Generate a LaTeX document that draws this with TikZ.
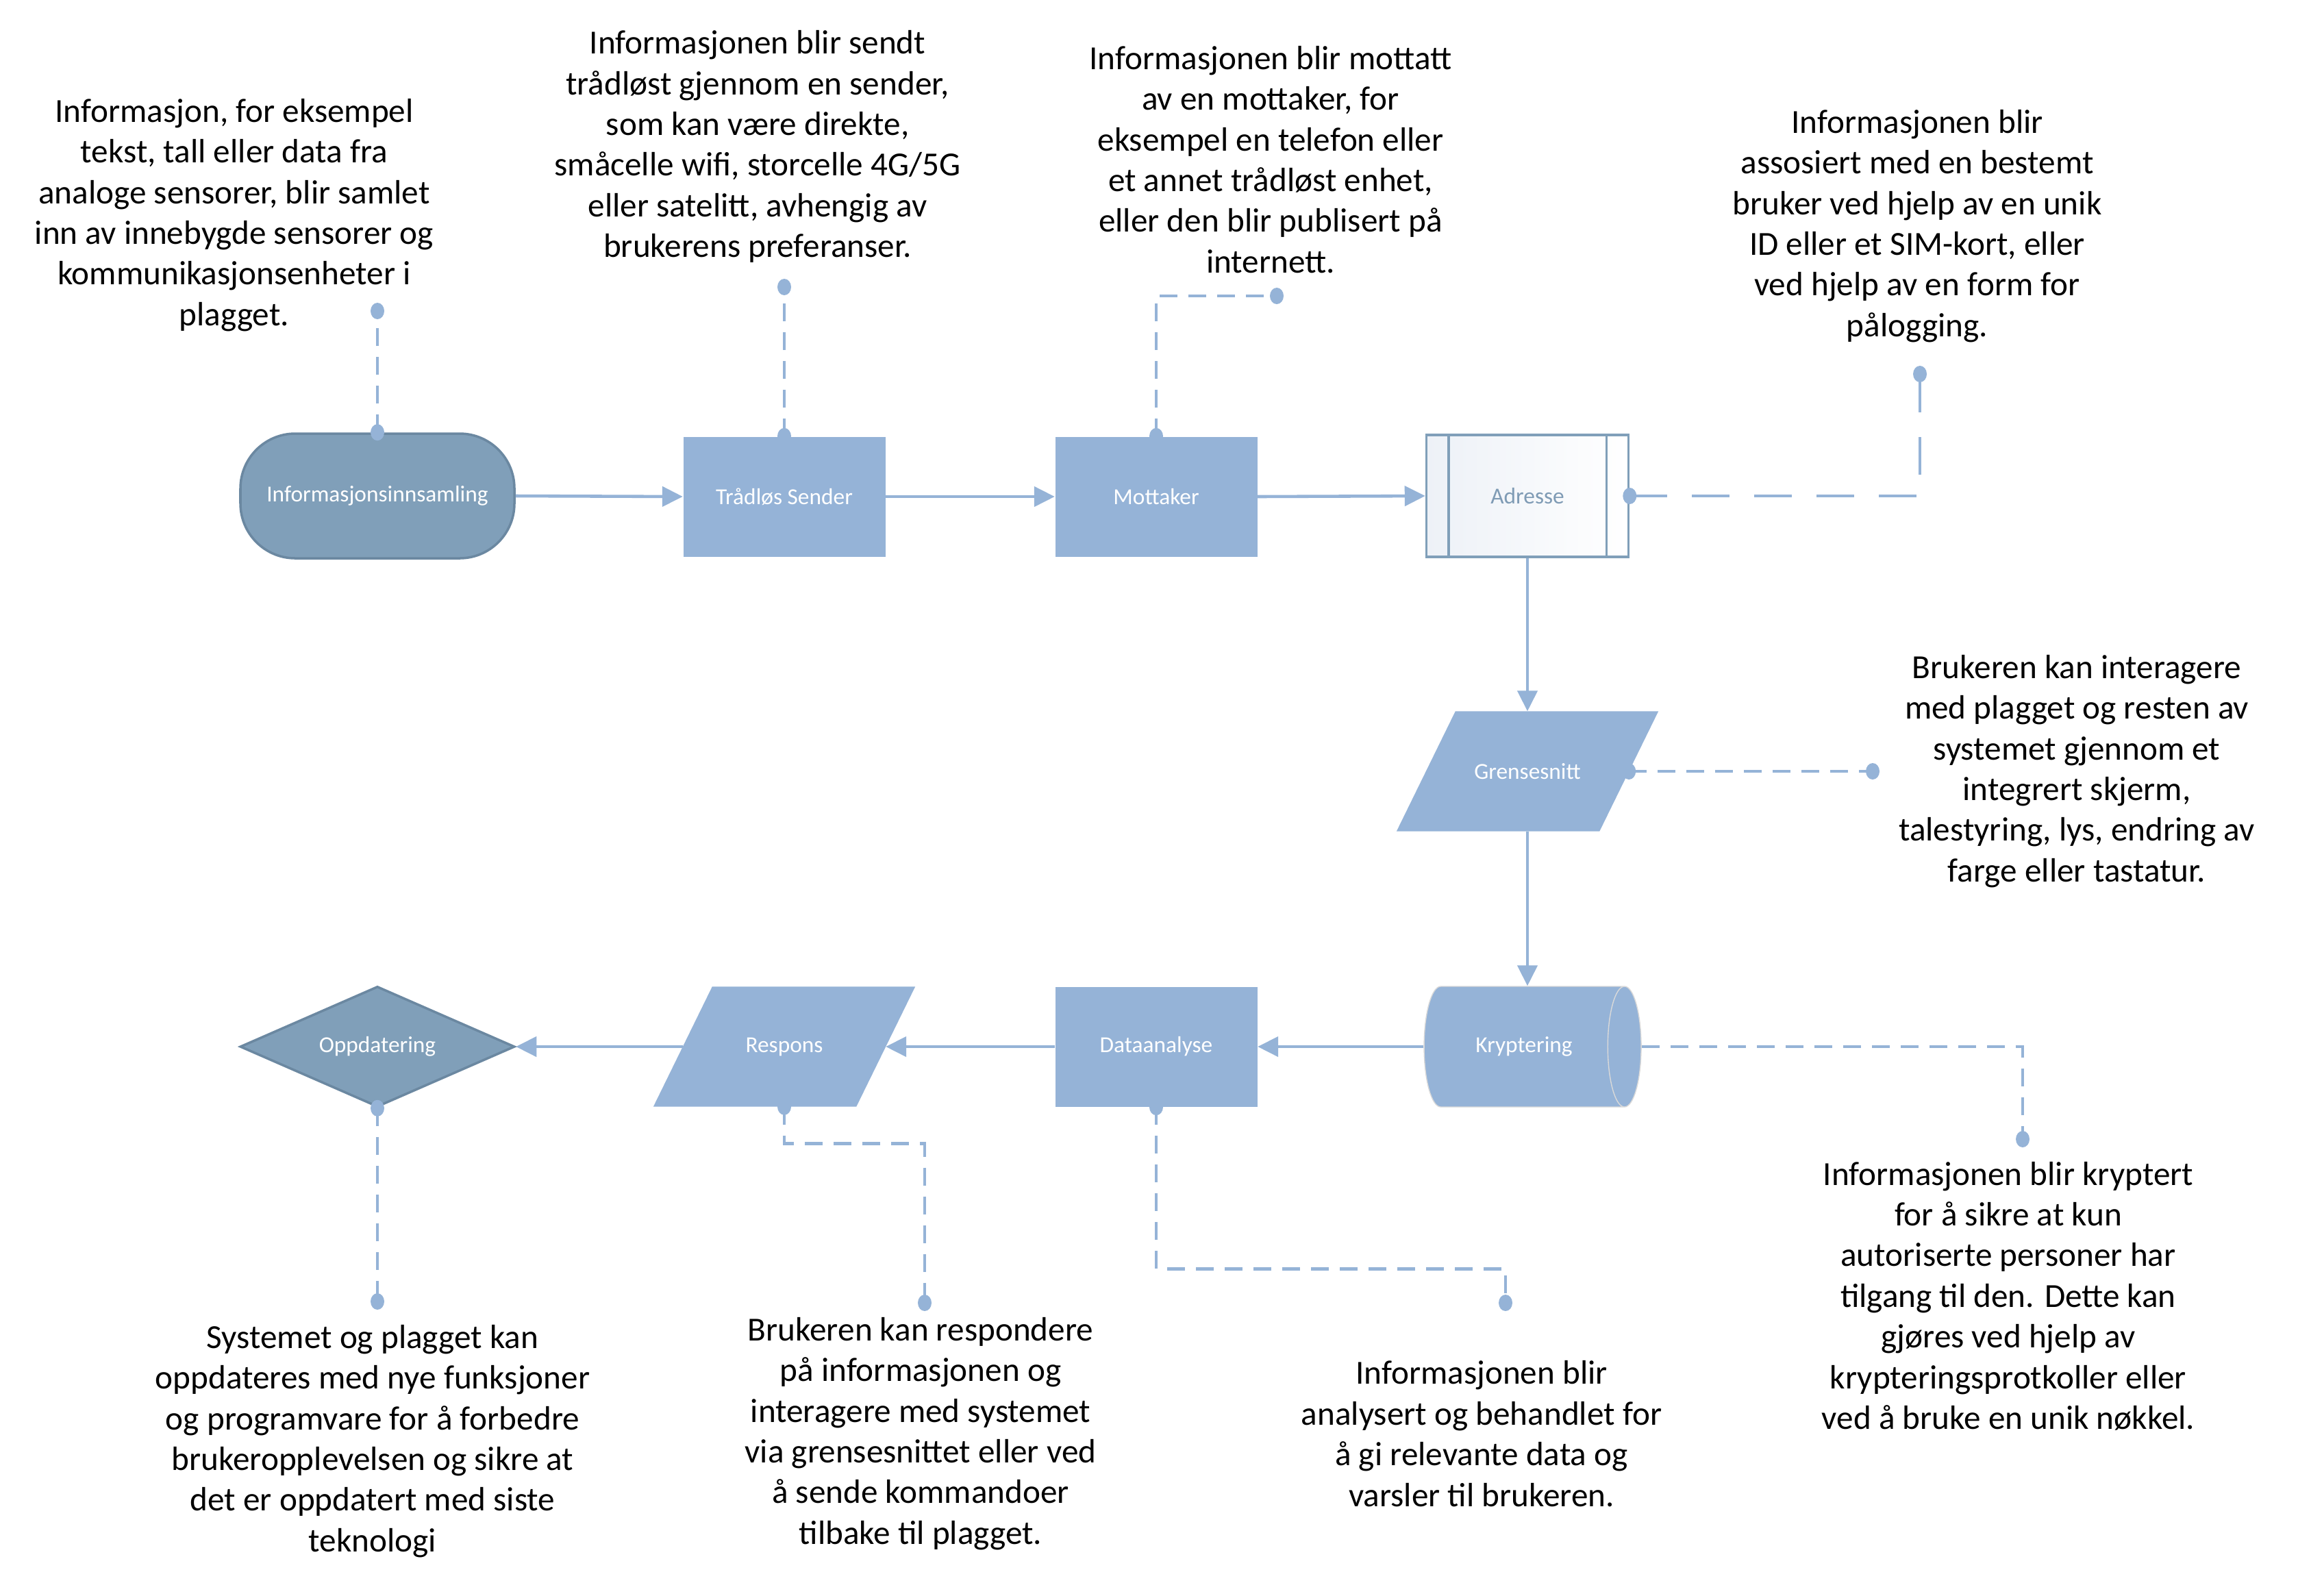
\documentclass[tikz,border=0pt]{standalone}
\usepackage{fontspec}
\setmainfont{Carlito}
\usetikzlibrary{shapes.misc,shapes.geometric,arrows.meta,backgrounds}
\definecolor{boxblue}{HTML}{95B3D7}
\definecolor{darkblue}{HTML}{809FB9}
\definecolor{darkedge}{HTML}{6B88A1}
\definecolor{adrtext}{HTML}{7F9BB5}
\definecolor{adrtint}{HTML}{EDF1F7}
\tikzset{
  nodetext/.style={font=\fontsize{9.5}{11}\selectfont, text=white, inner sep=0pt},
  process/.style={nodetext, rectangle, fill=boxblue, minimum width=2.95cm, minimum height=1.75cm},
  terminal/.style={nodetext, rectangle, rounded corners=0.8cm, fill=darkblue, draw=darkedge, line width=1pt, minimum width=4cm, minimum height=1.82cm},
  iobox/.style={nodetext, rectangle, minimum width=2.95cm, minimum height=1.74cm},
  storebox/.style={nodetext, cylinder, aspect=1.7, cylinder uses custom fill, cylinder body fill=boxblue, cylinder end fill=boxblue, draw=black!15, thin, minimum width=1.76cm, minimum height=3.17cm},
  decision/.style={nodetext, diamond, aspect=2.28, fill=darkblue, draw=darkedge, line width=1pt, minimum width=4.01cm, minimum height=1.76cm},
  predef/.style={nodetext, rectangle, left color=adrtint, right color=white, draw=darkblue, line width=1pt, text=adrtext, minimum width=2.95cm, minimum height=1.78cm},
  note/.style={align=center, font=\fontsize{14}{16.9}\selectfont, inner sep=0pt},
  flow/.style={draw=boxblue, line width=1.3pt, -{Triangle[length=0.3cm,width=0.29cm]}},
  callout/.style={draw=boxblue, line width=1.3pt, dash pattern=on 0.26cm off 0.16cm},
  dot/.style={fill=boxblue}
}

\begin{document}
\begin{tikzpicture}[x=1cm,y=-1cm]
  \useasboundingbox (0,0) rectangle (33.55,23.29);

  % flow chart
  \node[terminal] (info) at (5.51,7.24) {Informasjonsinnsamling};
  \node[process] (sender) at (11.45,7.25) {Trådløs Sender};
  \node[process] (mottaker) at (16.88,7.25) {Mottaker};
  \node[predef] (adresse) at (22.30,7.24) {Adresse};
  \draw[darkblue, line width=1pt] ([xshift=0.34cm]adresse.north west) -- ([xshift=0.34cm]adresse.south west)
    ([xshift=-0.34cm]adresse.north east) -- ([xshift=-0.34cm]adresse.south east);
  \node[iobox] (grense) at (22.30,11.26) {Grensesnitt};
  \node[storebox] (krypt) at (22.25,15.28) {Kryptering};
  \node[process] (analyse) at (16.88,15.28) {Dataanalyse};
  \node[iobox] (respons) at (11.45,15.28) {Respons};
  \node[decision] (oppdat) at (5.51,15.28) {Oppdatering};

  % parallelograms behind the text
  \begin{scope}[on background layer]
    \foreach \n in {grense, respons}
      \fill[boxblue] ([xshift=-0.43cm]\n.south west) -- ([xshift=-0.43cm]\n.south east)
        -- ([xshift=0.43cm]\n.north east) -- ([xshift=0.43cm]\n.north west) -- cycle;
  \end{scope}

  \draw[flow] (info.east) -- (sender.west);
  \draw[flow] (sender.east) -- (mottaker.west);
  \draw[flow] (mottaker.east) -- (adresse.west);
  \draw[flow] (adresse.south) -- (grense.north);
  \draw[flow] (grense.south) -- (grense.south |- krypt.north);
  \draw[flow] (krypt.west) -- (analyse.east);
  \draw[flow] (analyse.west) -- (respons.east);
  \draw[flow] (respons.west) -- (oppdat.east);

  % end points of the callouts
  \coordinate (infoend) at (5.51,4.54);
  \coordinate (senderend) at (11.45,4.19);
  \coordinate (mottakerend) at (18.64,4.32);
  \coordinate (adresseend) at (28.03,5.46);
  \coordinate (grenseend) at (27.34,11.26);
  \coordinate (kryptend) at (29.53,16.63);
  \coordinate (analyseend) at (21.98,19.02);
  \coordinate (responsend) at (13.50,19.02);
  \coordinate (oppdatend) at (5.51,19.00);

  \draw[callout] (info.north) -- (infoend);
  \draw[callout] (sender.north) -- (senderend);
  \draw[callout] (mottaker.north) |- (mottakerend);
  \draw[callout, dash pattern=on 0.55cm off 0.36cm] (adresse.east) -| (adresseend);
  \draw[callout] (grense.east) -- (grenseend);
  \draw[callout] (krypt.east) -| (kryptend);
  \draw[callout] (analyse.south) -- ++(0,2.36) -| (analyseend);
  \draw[callout] (respons.south) -- ++(0,0.54) -| (responsend);
  \draw[callout] (oppdat.south) -- (oppdatend);

  \foreach \p in {info.north, sender.north, mottaker.north, adresse.east, grense.east,
                  analyse.south, respons.south, oppdat.south,
                  infoend, senderend, mottakerend, adresseend, grenseend,
                  kryptend, analyseend, responsend, oppdatend}
    \fill[dot] (\p) ellipse (0.1cm and 0.12cm);

  % texts
  \node[note] (infonote) at (3.42,3.14) {Informasjon, for eksempel\\tekst, tall eller data fra\\analoge sensorer, blir samlet\\inn av innebygde sensorer og\\kommunikasjonsenheter i\\plagget.};
  \node[note] (sendernote) at (11.06,2.14) {Informasjonen blir sendt\\trådløst gjennom en sender,\\som kan være direkte,\\småcelle wifi, storcelle 4G/5G\\eller satelitt, avhengig av\\brukerens preferanser.};
  \node[note] (mottakernote) at (18.55,2.33) {Informasjonen blir mottatt\\av en mottaker, for\\eksempel en telefon eller\\et annet trådløst enhet,\\eller den blir publisert på\\internett.};
  \node[note] (adressenote) at (27.99,3.30) {Informasjonen blir\\assosiert med en bestemt\\bruker ved hjelp av en unik\\ID eller et SIM-kort, eller\\ved hjelp av en form for\\pålogging.};
  \node[note] (grensenote) at (30.32,11.26) {Brukeren kan interagere\\med plagget og resten av\\systemet gjennom et\\integrert skjerm,\\talestyring, lys, endring av\\farge eller tastatur.};
  \node[note] (kryptnote) at (29.32,18.92) {Informasjonen blir kryptert\\for å sikre at kun\\autoriserte personer har\\tilgang til den. Dette kan\\gjøres ved hjelp av\\krypteringsprotkoller eller\\ved å bruke en unik nøkkel.};
  \node[note] (analysenote) at (21.63,20.93) {Informasjonen blir\\analysert og behandlet for\\å gi relevante data og\\varsler til brukeren.};
  \node[note] (responsnote) at (13.44,20.93) {Brukeren kan respondere\\på informasjonen og\\interagere med systemet\\via grensesnittet eller ved\\å sende kommandoer\\tilbake til plagget.};
  \node[note] (oppdatnote) at (5.44,21.04) {Systemet og plagget kan\\oppdateres med nye funksjoner\\og programvare for å forbedre\\brukeropplevelsen og sikre at\\det er oppdatert med siste\\teknologi};
\end{tikzpicture}
\end{document}
